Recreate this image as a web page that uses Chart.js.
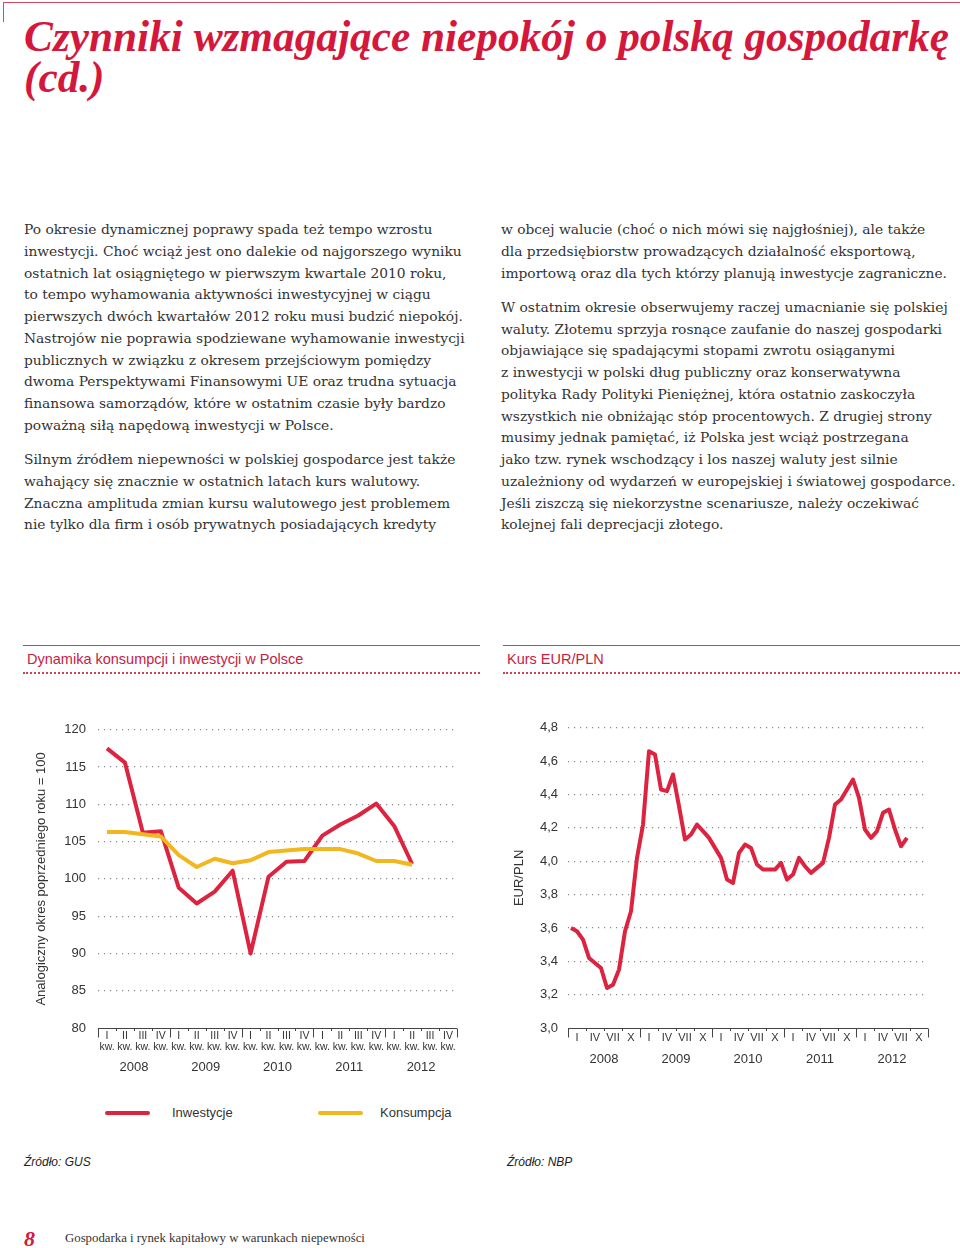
<!DOCTYPE html>
<html lang="pl">
<head>
<meta charset="utf-8">
<script src="https://cdn.jsdelivr.net/npm/chart.js@4.4.1/dist/chart.umd.min.js"></script>
<style>
  body { margin: 0; width: 960px; height: 1248px; position: relative; background: #fff; overflow: hidden;
         font-family: "Liberation Sans", Arial, sans-serif; color: #333; }
  .abs { position: absolute; }
  .topline { left: 3px; top: 2px; width: 957px; height: 0; border-top: 1px solid #d8485f; }
  .topvert { left: 3px; top: 2px; width: 0; height: 20px; border-left: 1px solid #d8485f; }
  h1 { position: absolute; left: 24px; top: 16px; margin: 0; font-family: "Liberation Serif", serif;
       font-weight: bold; font-style: italic; font-size: 43.3px; line-height: 41px; color: #d4173a; }
  .col { position: absolute; top: 219px; font-family: "DejaVu Serif", serif; font-size: 13.8px; line-height: 21.75px;
         color: #333; white-space: nowrap; }
  .col p { margin: 0 0 12.6px 0; }
  .box-head { position: absolute; top: 645px; height: 28px; border-top: 1px solid #d0405a; }
  .box-head span { position: absolute; left: 4px; top: 5px; font-size: 14.5px; color: #c8203f; }
  .box-head i { position: absolute; left: 0; right: 0; top: 26px; border-top: 2px dotted #d0405a; }
  .leg-line { height: 4px; border-radius: 2px; width: 45px; }
  .leg-text { font-size: 13px; color: #333; }
  .src { font-size: 12px; font-style: italic; color: #222; }
</style>
</head>
<body>
<div class="abs topline"></div>
<div class="abs topvert"></div>
<h1>Czynniki wzmagające niepokój o polską gospodarkę<br>(cd.)</h1>

<div class="col" style="left:24px">
<p>Po okresie dynamicznej poprawy spada też tempo wzrostu<br>
inwestycji. Choć wciąż jest ono dalekie od najgorszego wyniku<br>
ostatnich lat osiągniętego w pierwszym kwartale 2010 roku,<br>
to tempo wyhamowania aktywności inwestycyjnej w ciągu<br>
pierwszych dwóch kwartałów 2012 roku musi budzić niepokój.<br>
Nastrojów nie poprawia spodziewane wyhamowanie inwestycji<br>
publicznych w związku z okresem przejściowym pomiędzy<br>
dwoma Perspektywami Finansowymi UE oraz trudna sytuacja<br>
finansowa samorządów, które w ostatnim czasie były bardzo<br>
poważną siłą napędową inwestycji w Polsce.</p>
<p>Silnym źródłem niepewności w polskiej gospodarce jest także<br>
wahający się znacznie w ostatnich latach kurs walutowy.<br>
Znaczna amplituda zmian kursu walutowego jest problemem<br>
nie tylko dla firm i osób prywatnych posiadających kredyty</p>
</div>

<div class="col" style="left:501px">
<p>w obcej walucie (choć o nich mówi się najgłośniej), ale także<br>
dla przedsiębiorstw prowadzących działalność eksportową,<br>
importową oraz dla tych którzy planują inwestycje zagraniczne.</p>
<p>W ostatnim okresie obserwujemy raczej umacnianie się polskiej<br>
waluty. Złotemu sprzyja rosnące zaufanie do naszej gospodarki<br>
objawiające się spadającymi stopami zwrotu osiąganymi<br>
z inwestycji w polski dług publiczny oraz konserwatywna<br>
polityka Rady Polityki Pieniężnej, która ostatnio zaskoczyła<br>
wszystkich nie obniżając stóp procentowych. Z drugiej strony<br>
musimy jednak pamiętać, iż Polska jest wciąż postrzegana<br>
jako tzw. rynek wschodzący i los naszej waluty jest silnie<br>
uzależniony od wydarzeń w europejskiej i światowej gospodarce.<br>
Jeśli ziszczą się niekorzystne scenariusze, należy oczekiwać<br>
kolejnej fali deprecjacji złotego.</p>
</div>

<div class="box-head" style="left:23px;width:457px"><span>Dynamika konsumpcji i inwestycji w Polsce</span><i></i></div>
<div class="box-head" style="left:503px;width:457px"><span>Kurs EUR/PLN</span><i></i></div>

<canvas id="leftChart" class="abs" width="450" height="380" style="left:20px;top:710px"></canvas>
<canvas id="rightChart" class="abs" width="450" height="380" style="left:495px;top:710px"></canvas>

<div class="abs leg-line" style="left:105px;top:1111px;background:#dc2340"></div>
<div class="abs leg-text" style="left:172px;top:1105px">Inwestycje</div>
<div class="abs leg-line" style="left:318px;top:1111px;background:#f2b61f"></div>
<div class="abs leg-text" style="left:380px;top:1105px">Konsumpcja</div>

<div class="abs src" style="left:24px;top:1155px">Źródło: GUS</div>
<div class="abs src" style="left:507px;top:1155px">Źródło: NBP</div>

<div class="abs" style="left:24px;top:1226px;font-family:'Liberation Serif',serif;font-weight:bold;font-style:italic;font-size:22px;color:#d4173a">8</div>
<div class="abs" style="left:65px;top:1231px;font-family:'Liberation Serif',serif;font-size:12.8px;color:#333">Gospodarka i rynek kapitałowy w warunkach niepewności</div>

<script>
// data
const years = ['2008', '2009', '2010', '2011', '2012'];
const quarterNames = ['I', 'II', 'III', 'IV'];
const quarterMonthNames = ['I', 'IV', 'VII', 'X'];
const monthNames = ['I', 'II', 'III', 'IV', 'V', 'VI', 'VII', 'VIII', 'IX', 'X', 'XI', 'XII'];

// 2008 I kw. - 2012 II kw.
const inwestycje = [117.5, 115.6, 106.2, 106.4, 98.8, 96.7, 98.3, 101.1, 90.0, 100.3, 102.3, 102.4, 105.8, 107.3, 108.5, 110.1, 107.1, 102.0];
const konsumpcja = [106.3, 106.3, 106.0, 105.7, 103.2, 101.6, 102.7, 102.1, 102.5, 103.6, 103.8, 104.0, 104.0, 104.0, 103.4, 102.4, 102.4, 101.9];

// monthly, 2008 I - 2012 IX
const kursEurPln = [3.60, 3.58, 3.53, 3.42, 3.39, 3.36, 3.24, 3.26, 3.35, 3.58, 3.70, 4.02,
  4.22, 4.66, 4.64, 4.43, 4.42, 4.52, 4.33, 4.13, 4.16, 4.22, 4.18, 4.14,
  4.08, 4.02, 3.89, 3.87, 4.05, 4.10, 4.08, 3.98, 3.95, 3.95, 3.95, 3.99,
  3.89, 3.92, 4.02, 3.97, 3.93, 3.96, 3.99, 4.14, 4.34, 4.37, 4.43, 4.49,
  4.38, 4.19, 4.14, 4.18, 4.29, 4.31, 4.19, 4.09, 4.14];

const RED = '#dc2340';
const YELLOW = '#f2b61f';
const TEXT = '#333';
const FONT = 'Liberation Sans';

// x axis line with quarter / year ticks
const quarterAxis = {
  id: 'quarterAxis',
  afterDraw(chart, args, opts) {
    const s = chart.scales[opts.scaleId];
    const ctx = chart.ctx;
    const y = Math.round(chart.chartArea.bottom) + 0.5;
    const n = s.getLabels().length;
    const step = s.width / n;
    ctx.save();
    ctx.strokeStyle = '#444';
    ctx.lineWidth = 1;
    ctx.beginPath();
    ctx.moveTo(s.left, y);
    ctx.lineTo(s.right, y);
    for (let i = 0; i <= n; i++) {
      const x = Math.round(s.left + i * step) + 0.5;
      ctx.moveTo(x, y);
      ctx.lineTo(x, y + (i % 4 === 0 ? 9 : 2.5));
    }
    ctx.stroke();
    ctx.restore();
  }
};

function yGrid(minVal) {
  return {
    color: c => (c.tick && c.tick.value === minVal) ? 'rgba(0,0,0,0)' : '#8c8c8c',
    lineWidth: 1.2,
    drawTicks: false
  };
}

// left chart
const quarterLabels = [];
years.forEach(() => quarterNames.forEach(q => quarterLabels.push([q, 'kw.'])));

new Chart(document.getElementById('leftChart'), {
  type: 'line',
  data: {
    labels: quarterLabels,
    datasets: [
      { label: 'Konsumpcja', data: konsumpcja, borderColor: YELLOW, borderWidth: 4, pointRadius: 0, tension: 0, borderJoinStyle: 'round' },
      { label: 'Inwestycje', data: inwestycje, borderColor: RED, borderWidth: 4, pointRadius: 0, tension: 0, borderJoinStyle: 'round' }
    ]
  },
  options: {
    responsive: false,
    animation: false,
    devicePixelRatio: 1,
    layout: { padding: { top: 18, right: 13, left: 0, bottom: 0 } },
    plugins: { legend: { display: false }, tooltip: { enabled: false }, quarterAxis: { scaleId: 'x' } },
    scales: {
      x: {
        offset: true,
        grid: { display: false, drawTicks: false },
        border: { display: false },
        ticks: { autoSkip: false, maxRotation: 0, padding: 3, color: TEXT, font: { family: FONT, size: 10.5, lineHeight: 1.05 } },
        afterFit: s => { s.height = 30; }
      },
      xy: {
        type: 'category',
        labels: years,
        offset: true,
        position: 'bottom',
        grid: { display: false, drawTicks: false },
        border: { display: false },
        ticks: { padding: 2, color: TEXT, font: { family: FONT, size: 13 } },
        afterFit: s => { s.height = 32; }
      },
      y: {
        min: 80, max: 120,
        ticks: { stepSize: 5, padding: 12, color: TEXT, font: { family: FONT, size: 13 } },
        grid: yGrid(80),
        border: { display: false, dash: [1.2, 4.8] },
        title: { display: true, text: 'Analogiczny okres poprzedniego roku = 100', color: TEXT,
                 font: { family: FONT, size: 13 }, padding: { top: 14, bottom: 0 } },
        afterFit: s => { s.width = 78; }
      }
    }
  },
  plugins: [quarterAxis]
});

// right chart
const monthLabels = [];
years.forEach(y => monthNames.forEach(m => monthLabels.push(m + ' ' + y)));
const quarterMonthLabels = [];
years.forEach(() => quarterMonthNames.forEach(m => quarterMonthLabels.push(m)));

new Chart(document.getElementById('rightChart'), {
  type: 'line',
  data: {
    labels: monthLabels,
    datasets: [
      { label: 'EUR/PLN', data: kursEurPln, borderColor: RED, borderWidth: 4, pointRadius: 0, tension: 0, borderJoinStyle: 'round' }
    ]
  },
  options: {
    responsive: false,
    animation: false,
    devicePixelRatio: 1,
    layout: { padding: { top: 17, right: 17, left: 0, bottom: 0 } },
    plugins: { legend: { display: false }, tooltip: { enabled: false }, quarterAxis: { scaleId: 'xq' } },
    scales: {
      x: { display: false, offset: true },
      xq: {
        type: 'category',
        labels: quarterMonthLabels,
        offset: true,
        position: 'bottom',
        grid: { display: false, drawTicks: false },
        border: { display: false },
        ticks: { autoSkip: false, maxRotation: 0, padding: 3, color: TEXT, font: { family: FONT, size: 11 } },
        afterFit: s => { s.height = 20; }
      },
      xy: {
        type: 'category',
        labels: years,
        offset: true,
        position: 'bottom',
        grid: { display: false, drawTicks: false },
        border: { display: false },
        ticks: { padding: 4, color: TEXT, font: { family: FONT, size: 13 } },
        afterFit: s => { s.height = 42; }
      },
      y: {
        min: 3.0, max: 4.8,
        ticks: { stepSize: 0.2, padding: 10, color: TEXT, font: { family: FONT, size: 13 },
                 callback: v => v.toFixed(1).replace('.', ',') },
        grid: yGrid(3),
        border: { display: false, dash: [1.2, 4.8] },
        title: { display: true, text: 'EUR/PLN', color: TEXT, font: { family: FONT, size: 13 }, padding: { top: 17, bottom: 0 } },
        afterFit: s => { s.width = 73; }
      }
    }
  },
  plugins: [quarterAxis]
});
</script>
</body>
</html>
